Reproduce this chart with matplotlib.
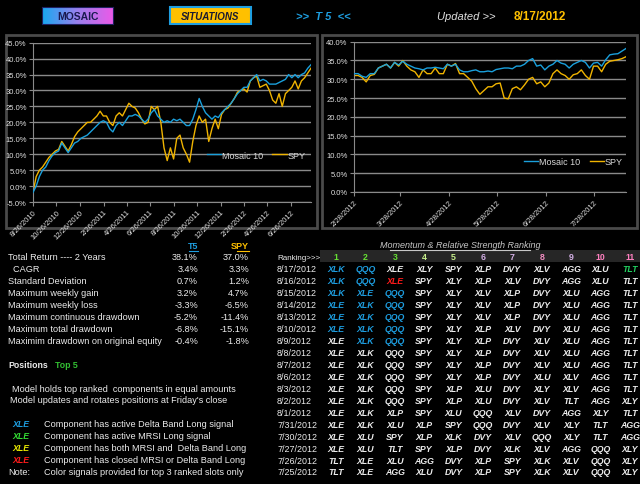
import numpy as np
import pandas as pd
import matplotlib
matplotlib.use("Agg")
import matplotlib.pyplot as plt
from matplotlib.patches import Rectangle
from matplotlib.lines import Line2D

# ---- chart data (percent return) ----
mosaic_2y = [-2, 0, 3, 5, 6, 8, 9.5, 10.5, 11, 13.5, 12, 10.5, 12, 13.5, 14, 15, 15.5, 16, 17, 18,
             19, 20, 20.5, 20, 18, 17, 19, 20, 19, 20.5, 22, 22, 22.5, 22, 21, 20, 21, 23, 24, 22,
             21, 20, 20.5, 20, 21, 20.5, 21, 20, 19, 19, 21, 24, 27.5, 25, 23, 22, 21, 22, 21.5, 23,
             24, 25, 26, 27.5, 29, 30, 31, 31, 33, 34, 35, 33, 33.5, 33, 32, 32, 32, 32.5, 33, 33.5,
             35, 34, 35, 34, 35, 35.5, 37, 38.1]
spy_2y = [-2, 3, 5, 6, 7.5, 9, 10, 11, 11.5, 14, 12.5, 11, 13, 15.5, 17, 18, 19, 20, 20, 21,
          22, 23.5, 22, 22, 20, 19, 22, 23, 22, 24, 26, 25, 24.5, 23, 21, 19.5, 20, 25, 24, 25,
          20, 12, 8, 12, 8.5, 15, 16, 12, 10, 7.5, 14, 19, 22, 20, 21, 14, 18, 21, 18, 22.5,
          24, 24.5, 26, 27.5, 29.5, 30, 30.5, 29.5, 33, 34, 34.5, 31, 31.5, 32, 30, 27, 26, 29, 25, 29,
          30, 31, 33, 30.5, 33, 34, 35.5, 37.0]
mosaic_6m = [31.5, 31.5, 30.8, 30.5, 31.5, 31.5, 33, 33.5, 34, 33, 34.5, 33.8, 34.8, 34, 33.5, 33, 32.8,
             32.5, 33, 33, 33.2, 33, 32.8, 34, 33.5, 34, 32.5, 32, 32, 32.3, 32.5, 32, 32, 32.2, 32,
             32.6, 32.8, 33, 33, 32.8, 33.5, 33.5, 34, 35, 35.5, 33.5, 33.8, 32.5, 33.5, 34, 35, 34.3,
             34, 33, 34, 34.5, 35, 34.5, 33, 34.3, 34.5, 33.5, 35.2, 36.5, 36.7, 36.8, 37.5, 38.2]
spy_6m = [31, 31, 30.5, 29.3, 31, 31.3, 33, 33.5, 34, 33, 34.5, 33.5, 35, 33.5, 32.5, 32, 30.5,
          32.5, 31.5, 31.5, 33, 31.5, 31.5, 34, 33.5, 34.2, 31.5, 31.5, 30.5, 29.5, 27.5, 26, 27, 28, 28,
          28.8, 29, 25, 24.8, 27.5, 28, 27.2, 28.5, 30, 30.5, 28.8, 29.3, 28, 29, 31.5, 32.5, 31.5,
          31, 30, 31.2, 31.5, 32.5, 31, 30, 33.5, 33.5, 32, 34, 34.8, 35, 35.2, 35.5, 36]

ticks_2y = ['8/26/2010', '10/26/2010', '12/26/2010', '2/26/2011', '4/26/2011', '6/26/2011',
            '8/26/2011', '10/26/2011', '12/26/2011', '2/26/2012', '4/26/2012', '6/26/2012']
ticks_6m = ['2/28/2012', '3/28/2012', '4/28/2012', '5/28/2012', '6/28/2012', '7/28/2012']

# ---- stats table ----
stat_labels = ['Total Return ---- 2 Years', '  CAGR', 'Standard Deviation', 'Maximum weekly gain',
               'Maximum weekly loss', 'Maximum continuous drawdown', 'Maximum total drawdown',
               'Maximim drawdown on original equity']
t5_vals = ['38.1%', '3.4%', '0.7%', '3.2%', '-3.3%', '-5.2%', '-6.8%', '-0.4%']
spy_vals = ['37.0%', '3.3%', '1.2%', '4.7%', '-6.5%', '-11.4%', '-15.1%', '-1.8%']

# ---- ranking table ----
rank_dates = ['8/17/2012', '8/16/2012', '8/15/2012', '8/14/2012', '8/13/2012', '8/10/2012',
              '8/9/2012', '8/8/2012', '8/7/2012', '8/6/2012', '8/3/2012', '8/2/2012', '8/1/2012',
              '7/31/2012', '7/30/2012', '7/27/2012', '7/26/2012', '7/25/2012']
rankings = [
    'XLK QQQ XLE XLY SPY XLP DVY XLV AGG XLU TLT',
    'XLK QQQ XLE SPY XLY XLP XLV DVY AGG XLU TLT',
    'XLK XLE QQQ SPY XLY XLV XLP DVY XLU AGG TLT',
    'XLE XLK QQQ SPY XLY XLV XLP DVY XLU AGG TLT',
    'XLE XLK QQQ SPY XLY XLV XLP DVY XLU AGG TLT',
    'XLE XLK QQQ SPY XLY XLP XLV DVY XLU AGG TLT',
    'XLE XLK QQQ SPY XLY XLP DVY XLV XLU AGG TLT',
    'XLE XLK QQQ SPY XLY XLP DVY XLV XLU AGG TLT',
    'XLE XLK QQQ SPY XLY XLP DVY XLV XLU AGG TLT',
    'XLE XLK QQQ SPY XLY XLP DVY XLU XLV AGG TLT',
    'XLE XLK QQQ SPY XLP XLU DVY XLY XLV AGG TLT',
    'XLE XLK QQQ SPY XLP XLU DVY XLV TLT AGG XLY',
    'XLE XLK XLP SPY XLU QQQ XLV DVY AGG XLY TLT',
    'XLE XLK XLU XLP SPY QQQ DVY XLV XLY TLT AGG',
    'XLE XLU SPY XLP XLK DVY XLV QQQ XLY TLT AGG',
    'XLE XLU TLT SPY XLP DVY XLK XLV AGG QQQ XLY',
    'TLT XLE XLU AGG DVY XLP SPY XLK XLV QQQ XLY',
    'TLT XLE AGG XLU DVY XLP SPY XLK XLV QQQ XLY',
]
# signal colour codes: b=delta band, g=mrsi, r=closed, w=none
signals = ['bbw' + 'w' * 7 + 'g', 'bbr'] + ['bbb'] * 4 + ['wbb']

BLUE = '#1e9ee0'
GOLD = '#ffc000'
WHITE = '#ececec'
sig_col = {'b': BLUE, 'g': '#22d060', 'r': '#ff1a1a', 'w': WHITE}
num_cols = ['#66e033', '#66e033', '#66e033', '#c8f08c', '#c8f08c', '#d4b0e6', '#d4b0e6',
            '#f08cc0', '#d4b0e6', '#ff80c0', '#ff80c0']

plt.rcParams['font.family'] = ['Liberation Sans', 'DejaVu Sans']

W, H = 640, 485
fig = plt.figure(figsize=(6.4, 4.85), dpi=100, facecolor='black')
FS = 6.6


def fx(px):
    return px / W


def fy(py):
    return 1 - py / H


def txt(x, y, s, **kw):
    kw.setdefault('color', WHITE)
    kw.setdefault('fontsize', FS)
    fig.text(fx(x), fy(y), s, va='center', **kw)


def uline(x0, x1, y, color):
    fig.add_artist(Line2D([fx(x0), fx(x1)], [fy(y), fy(y)], color=color, lw=0.8))


# ---- header ----
hax = fig.add_axes([fx(42), fy(25), fx(113) - fx(42), 17 / H])
grad = np.linspace(0, 1, 100).reshape(1, -1)
cmap = matplotlib.colors.LinearSegmentedColormap.from_list('m', ['#18a8f0', '#9a80ee', '#ea5ae8'])
hax.imshow(grad, aspect='auto', cmap=cmap)
hax.set_xticks([]); hax.set_yticks([])
for s in hax.spines.values():
    s.set_color('#202060')
hax.text(0.5, 0.5, 'MOSAIC', transform=hax.transAxes, ha='center', va='center',
         color='#1a1a50', fontsize=7.5, fontweight='bold')

fig.add_artist(Rectangle((fx(170), fy(25)), fx(251) - fx(170), 17 / H, facecolor=GOLD,
                         edgecolor=BLUE, lw=1.5))
txt(210.5, 16.5, 'SITUATIONS', ha='center', color='#1a1a30', fontsize=7, fontweight='bold',
    style='italic')
txt(323, 17, '>>  T 5  <<', ha='center', color=BLUE, fontsize=8, fontweight='bold', style='italic')
txt(437, 17, 'Updated >>', color='#e0e0e0', fontsize=8, style='italic')
txt(514, 17, '8/17/2012', color=GOLD, fontsize=8.5, fontweight='bold')

# ---- chart panels ----
for x0, x1 in [(6, 317), (322, 637)]:
    fig.add_artist(Rectangle((fx(x0), fy(229)), fx(x1) - fx(x0), (229 - 36) / H,
                             facecolor='black', edgecolor='#4a4a4a', lw=2, zorder=0))


def style_axis(ax, ymin, ymax, tick_dates, tick_labels, x_start, x_end):
    ax.set_facecolor('black')
    ax.set_ylim(ymin, ymax)
    yt = np.arange(ymin, ymax + 0.1, 5)
    ax.set_yticks(yt)
    ax.set_yticklabels([f'{v:.1f}%' for v in yt], color='#e0e0e0', fontsize=5.5)
    ax.yaxis.grid(True, color='#8a8a8a', lw=1)
    ax.set_axisbelow(True)
    ax.set_xlim(pd.Timestamp(x_start), pd.Timestamp(x_end))
    ax.set_xticks(pd.to_datetime(tick_dates))
    ax.set_xticklabels(tick_labels, rotation=45, ha='right', rotation_mode='anchor',
                       color='#e0e0e0', fontsize=5.5)
    for side in ['top', 'right']:
        ax.spines[side].set_visible(False)
    for side in ['left', 'bottom']:
        ax.spines[side].set_color('#8a8a8a')
    ax.tick_params(axis='both', colors='#8a8a8a', length=3, pad=1.5, labelcolor='#e0e0e0')


def add_legend(ax, y):
    h, l = ax.get_legend_handles_labels()
    ax.legend(h[::-1], l[::-1], loc='center left', bbox_to_anchor=(0.625, y), ncol=2,
              frameon=False, fontsize=6.5, labelcolor='#d8d8d8', handlelength=1.6,
              columnspacing=1.0, handletextpad=0.1, borderpad=0, borderaxespad=0)


ax1 = fig.add_axes([fx(33), fy(203), fx(311) - fx(33), (203 - 43.7) / H])
d1 = pd.date_range('2010-08-26', '2012-08-17', periods=len(mosaic_2y))
ax1.plot(d1, spy_2y, color='#f0b400', lw=1.0, label='SPY', zorder=2)
ax1.plot(d1, mosaic_2y, color='#1aa0dc', lw=1.0, label='Mosaic 10', zorder=3)
style_axis(ax1, -5, 45, ticks_2y, ticks_2y, '2010-08-26', '2012-08-17')
add_legend(ax1, 0.295)

ax2 = fig.add_axes([fx(354), fy(193), fx(626) - fx(354), (193 - 42.7) / H])
d2 = pd.date_range('2012-02-28', '2012-08-17', periods=len(mosaic_6m))
ax2.plot(d2, spy_6m, color='#f0b400', lw=1.0, label='SPY', zorder=2)
ax2.plot(d2, mosaic_6m, color='#1aa0dc', lw=1.0, label='Mosaic 10', zorder=3)
style_axis(ax2, 0, 40, ticks_6m, ticks_6m, '2012-02-28', '2012-08-17')
add_legend(ax2, 0.2)

# ---- stats table ----
row0, step = 258, 11.94
txt(198, 247, 'T5', ha='right', color=BLUE, fontsize=6.5, fontweight='bold')
uline(189, 198, 252, BLUE)
txt(249, 247, 'SPY', ha='right', color=GOLD, fontsize=6.5, fontweight='bold')
uline(237, 249, 252, GOLD)
for i, (lab, a, b) in enumerate(zip(stat_labels, t5_vals, spy_vals)):
    y = row0 + i * step
    txt(8, y, lab)
    txt(198, y, a, ha='right')
    txt(249, y, b, ha='right')

txt(8, 366, 'Positions', fontsize=6.3, fontweight='bold')
txt(55, 366, 'Top 5', color='#33c033', fontsize=6.3, fontweight='bold')
txt(12, 389, 'Model holds top ranked  components in equal amounts')
txt(10, 401, "Model updates and rotates positions at Friday's close")
legend_rows = [(BLUE, 'Component has active Delta Band Long signal'),
               ('#33dd33', 'Component has active MRSI Long signal'),
               ('#e8e800', 'Component has both MRSI and  Delta Band Long'),
               ('#ff1a1a', 'Component has closed MRSI or Delta Band Long')]
for i, (c, s) in enumerate(legend_rows):
    y = 425 + i * step
    txt(12, y, 'XLE', color=c, fontsize=6.3, fontweight='bold', style='italic')
    txt(44, y, s)
txt(8, 473, 'Note:')
txt(44, 473, 'Color signals provided for top 3 ranked slots only')

# ---- ranking table ----
txt(460, 246, 'Momentum & Relative Strength Ranking', ha='center', color='#c8c8c8',
    fontsize=6.5, style='italic')
uline(390, 530, 251, '#c8c8c8')
fig.add_artist(Rectangle((fx(320), fy(263)), fx(640) - fx(320), 12 / H,
                         facecolor='#262626', edgecolor='none', zorder=0))
txt(277, 258, 'Ranking>>>', fontsize=5.8)
col_x = [336 + k * 29.4 for k in range(11)]
for k, x in enumerate(col_x):
    txt(x, 257.5, str(k + 1), ha='center', color=num_cols[k], fontsize=6.3, fontweight='bold')

for i, (d, r) in enumerate(zip(rank_dates, rankings)):
    y = 270 + i * step
    txt(277, y, d, fontsize=6.4)
    sig = signals[i] if i < len(signals) else ''
    for k, sym in enumerate(r.split()):
        c = sig_col[sig[k]] if k < len(sig) else WHITE
        txt(col_x[k], y, sym, ha='center', color=c, fontsize=6.3, fontweight='bold', style='italic')

fig.savefig('out.png', dpi=100, facecolor='black')
